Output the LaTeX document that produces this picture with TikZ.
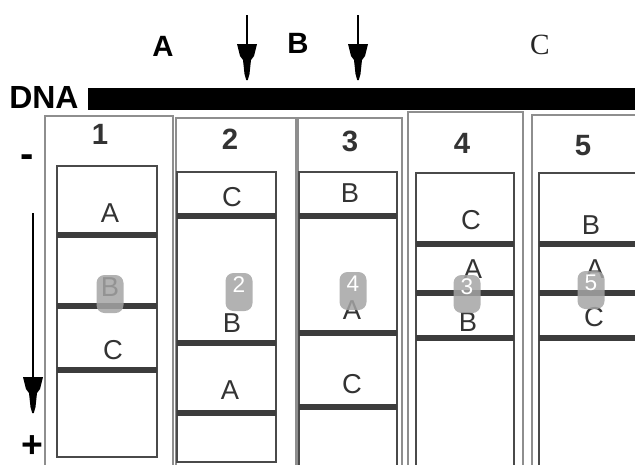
\documentclass[tikz,border=0pt]{standalone}
\usepackage{fontspec}
\setmainfont{Liberation Sans}
\newfontfamily\serifC{Liberation Serif}
\definecolor{outerc}{HTML}{8E8E8E}
\definecolor{innerc}{HTML}{4A4A4A}
\definecolor{bandc}{HTML}{3C3C3C}
\definecolor{txtc}{HTML}{333333}
\definecolor{badgec}{HTML}{A4A4A4}
\begin{document}
\begin{tikzpicture}[x=0.75pt,y=-0.75pt,
  outerbox/.style={draw=outerc,line width=1.4pt},
  innerbox/.style={draw=innerc,line width=1.3pt},
  band/.style={draw=bandc,line width=4pt},
  bandlabel/.style={text=txtc,inner sep=0pt,font=\fontsize{20.5}{20.5}\selectfont},
  lanenum/.style={text=txtc,inner sep=0pt,font=\fontsize{22}{22}\selectfont\bfseries},
  toplabel/.style={text=black,inner sep=0pt,font=\fontsize{22}{22}\selectfont\bfseries},
  badge/.style={fill=badgec,fill opacity=0.85,rounded corners=6pt,minimum width=27*0.75pt,minimum height=38*0.75pt,inner sep=0pt},
  badgenum/.style={text=white,inner sep=0pt,font=\fontsize{17}{17}\selectfont},
  signlabel/.style={text=black,inner sep=0pt,font=\fontsize{30}{30}\selectfont\bfseries},
  shaft/.style={line width=1.4pt},
  headpic/.pic={\fill[black] (-10,-36) -- (10,-36) -- (7,-24) -- (4,-20) -- (2.5,-6) -- (0.8,0) -- (-0.8,0) -- (-2.5,-6) -- (-4,-20) -- (-7,-24) -- cycle;}
]
\useasboundingbox (0,0) rectangle (635,464);
\clip (0,0) rectangle (635,464);

% DNA bar and labels
\fill[black] (88,88) rectangle (640,110);
\node[toplabel,font=\fontsize{24}{24}\selectfont\bfseries,anchor=west] (dna) at (9,97) {DNA};
\node[toplabel] (tA) at (163,46) {A};
\node[toplabel] (tB) at (298,43) {B};
\node[inner sep=0pt,text=black!85,font=\fontsize{22}{22}\selectfont\serifC] (tC) at (540,45) {C};

% cut arrows
\coordinate (cut1s) at (247,15); \coordinate (cut1e) at (247,80);
\coordinate (cut2s) at (358,15); \coordinate (cut2e) at (358,80);
\draw[shaft] (cut1s) -- ([yshift=30*0.75pt]cut1e);
\pic at (cut1e) {headpic};
\draw[shaft] (cut2s) -- ([yshift=30*0.75pt]cut2e);
\pic at (cut2e) {headpic};

% outer lane boxes
\draw[outerbox] (45,116) rectangle (173,475);
\draw[outerbox] (176,118) rectangle (296,475);
\draw[outerbox] (298,118) rectangle (402,475);
\draw[outerbox] (408,112) rectangle (523,475);
\draw[outerbox] (532,115) rectangle (650,475);

% lane numbers
\node[lanenum] (n1) at (100,134) {1};
\node[lanenum] (n2) at (230,139) {2};
\node[lanenum] (n3) at (350,141) {3};
\node[lanenum] (n4) at (462,143) {4};
\node[lanenum] (n5) at (583,146) {5};

% inner gel boxes
\draw[innerbox] (57,166) rectangle (157,457);
\draw[innerbox] (177,172) rectangle (276,462);
\draw[innerbox] (299,172) rectangle (397,475);
\draw[innerbox] (416,173) rectangle (514,475);
\draw[innerbox] (539,173) rectangle (650,475);

% bands lane 1
\draw[band] (57,235) -- (157,235);
\draw[band] (57,306) -- (157,306);
\draw[band] (57,370) -- (157,370);
% bands lane 2
\draw[band] (177,216) -- (276,216);
\draw[band] (177,343) -- (276,343);
\draw[band] (177,413) -- (276,413);
% bands lane 3
\draw[band] (299,216) -- (397,216);
\draw[band] (299,333) -- (397,333);
\draw[band] (299,407) -- (397,407);
% bands lane 4
\draw[band] (416,244) -- (514,244);
\draw[band] (416,293) -- (514,293);
\draw[band] (416,338) -- (514,338);
% bands lane 5
\draw[band] (539,244) -- (650,244);
\draw[band] (539,293) -- (650,293);
\draw[band] (539,338) -- (650,338);

% band labels
\node[bandlabel] (l1a) at (110,213) {A};
\node[bandlabel] (l1b) at (110,287) {B};
\node[bandlabel] (l1c) at (113,350) {C};
\node[bandlabel] (l2c) at (232,197) {C};
\node[bandlabel] (l2b) at (232,323) {B};
\node[bandlabel] (l2a) at (230,390) {A};
\node[bandlabel] (l3b) at (350,193) {B};
\node[bandlabel] (l3a) at (352,310) {A};
\node[bandlabel] (l3c) at (352,384) {C};
\node[bandlabel] (l4c) at (471,220) {C};
\node[bandlabel] (l4a) at (473,269) {A};
\node[bandlabel] (l4b) at (468,322) {B};
\node[bandlabel] (l5b) at (591,225) {B};
\node[bandlabel] (l5a) at (595,269) {A};
\node[bandlabel] (l5c) at (594,317) {C};

% badges
\node[badge] (b1) at (110,294) {};
\node[badge] (b2) at (239,292) {};
\node[badgenum] at ([yshift=7*0.75pt]b2.center) {2};
\node[badge] (b3) at (353,291) {};
\node[badgenum] at ([yshift=7*0.75pt]b3.center) {4};
\node[badge] (b4) at (467,294) {};
\node[badgenum] at ([yshift=7*0.75pt]b4.center) {3};
\node[badge] (b5) at (591,290) {};
\node[badgenum] at ([yshift=7*0.75pt]b5.center) {5};

% migration direction
\node[signlabel] (minus) at (27,161) {-};
\node[signlabel,font=\fontsize{28}{28}\selectfont\bfseries] (plus) at (32,447) {+};
\coordinate (migs) at (33,213);
\coordinate (mige) at (33,413);
\draw[shaft] (migs) -- ([yshift=30*0.75pt]mige);
\pic at (mige) {headpic};
\end{tikzpicture}
\end{document}
